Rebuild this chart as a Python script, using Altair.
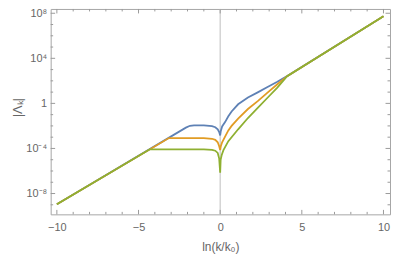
import altair as alt
import pandas as pd

# ln(k/k0) sample positions and log10 |Λk|
blue_x = [-10, -2.1, -1.85, -1.6, -1.0, -0.5, -0.3, -0.15, -0.06, 0.0,
          0.04, 0.12, 0.3, 0.5, 0.7, 1.1, 1.7, 2.3, 2.9, 3.5, 4.1, 10]
blue_L = [-8.95, -2.15, -1.99, -1.95, -1.96, -2.02, -2.12, -2.3, -2.55, -2.85,
          -2.45, -2.05, -1.66, -1.15, -0.72, -0.08, 0.52, 0.98, 1.45, 1.92, 2.42, 7.73]

orange_x = [-10, -3.14, -1.0, -0.5, -0.3, -0.15, -0.06, 0.0,
            0.04, 0.12, 0.3, 0.5, 0.7, 1.1, 1.7, 2.3, 2.9, 3.5, 4.1, 10]
orange_L = [-8.95, -3.08, -3.08, -3.14, -3.24, -3.45, -3.8, -4.15,
            -3.8, -3.45, -2.95, -2.4, -2.0, -1.35, -0.5, 0.2, 0.95, 1.7, 2.42, 7.73]

green_x = [-10, -4.31, -1.0, -0.5, -0.3, -0.15, -0.06, 0.0,
           0.03, 0.1, 0.2, 0.5, 1.1, 1.7, 2.3, 2.9, 3.5, 4.1, 10]
green_L = [-8.95, -4.08, -4.08, -4.12, -4.2, -4.4, -4.9, -6.15,
           -5.0, -4.55, -4.15, -3.35, -2.3, -1.3, -0.4, 0.5, 1.4, 2.42, 7.73]

series = [("blue", blue_x, blue_L, "#5E81B5"),
          ("orange", orange_x, orange_L, "#E19C24"),
          ("green", green_x, green_L, "#8FB032")]

x_major = [-10, -5, 0, 5, 10]
x_minor = [v for v in range(-10, 11) if v % 5 != 0]
y_major_exp = [-8, -4, 0, 4, 8]
y_major_lab = ["10⁻⁸", "10⁻⁴", "1", "10⁴", "10⁸"]
y_minor_exp = [e for e in range(-9, 9) if e % 4 != 0]
x_zero = [0]

W, H = 342, 207
FONT = "Liberation Sans"
GRAY = "#666666"
TICK = "#9a9a9a"

xscale = alt.Scale(domain=[-10.38, 10.4], nice=False, zero=False)
yscale = alt.Scale(type="log", domain=[10 ** -9.85, 10 ** 8.38], nice=False)

y_label_expr = " : ".join(
    f"datum.value > {10 ** (e - 1):g} && datum.value < {10 ** (e + 1):g} ? '{lab}'"
    for e, lab in zip(y_major_exp, y_major_lab)
) + " : ''"

xaxis = alt.Axis(
    values=x_major, title="ln(k/k₀)", grid=False, domain=False, ticks=False, tickSize=0,
    labelPadding=7, labelFont=FONT, labelFontSize=11, labelColor=GRAY,
    titleFont=FONT, titleFontSize=12, titleColor=GRAY, titleFontWeight="normal",
    titleX=171, titleY=32, titleBaseline="middle", titleAlign="center")
yaxis = alt.Axis(
    values=[10.0 ** e for e in y_major_exp], labelExpr=y_label_expr,
    title="|Λₖ|", grid=False, domain=False, ticks=False, tickSize=0,
    labelPadding=4, labelFont=FONT, labelFontSize=11, labelColor=GRAY,
    titleFont=FONT, titleFontSize=13, titleColor=GRAY, titleFontWeight="normal",
    titleX=-33, titleY=99, titleAngle=-90,
    titleBaseline="middle", titleAlign="center")

layers = []

# vertical line at 0
layers.append(
    alt.Chart(pd.DataFrame({"x": x_zero})).mark_rule(color="#c8c8c8", strokeWidth=1.2).encode(
        x=alt.X("x:Q", scale=xscale, axis=xaxis),
    )
)

for name, xs, Ls, col in series:
    df = pd.DataFrame({"x": xs, "v": [10 ** L for L in Ls], "o": list(range(len(xs)))})
    layers.append(
        alt.Chart(df).mark_line(color=col, strokeWidth=1.8, clip=True).encode(
            x=alt.X("x:Q", scale=xscale, axis=xaxis),
            y=alt.Y("v:Q", scale=yscale, axis=yaxis),
            order="o:Q",
        )
    )

def xticks(vals, length):
    d = pd.DataFrame({"x": vals})
    out = []
    for y0, y1 in [(H, H - length), (0, length)]:
        out.append(alt.Chart(d).mark_rule(color=TICK, strokeWidth=1).encode(
            x=alt.X("x:Q", scale=xscale, axis=xaxis),
            y=alt.value(y0), y2=alt.value(y1)))
    return out

def yticks(exps, length):
    d = pd.DataFrame({"v": [10.0 ** e for e in exps]})
    out = []
    for x0, x1 in [(0, length), (W, W - length)]:
        out.append(alt.Chart(d).mark_rule(color=TICK, strokeWidth=1).encode(
            y=alt.Y("v:Q", scale=yscale, axis=yaxis),
            x=alt.value(x0), x2=alt.value(x1)))
    return out

layers += xticks(x_major, 4.5) + xticks(x_minor, 2.5)
layers += yticks(y_major_exp, 4.5) + yticks(y_minor_exp, 2.5)

chart = alt.layer(*layers).properties(
    width=W, height=H,
    autosize=alt.AutoSizeParams(type="none"),
    padding={"left": 43, "top": 0, "right": 1, "bottom": 43},
).configure_view(stroke="#a6a6a6", strokeWidth=1)

chart.save("out.html", embed_options={"renderer": "svg", "actions": False})
